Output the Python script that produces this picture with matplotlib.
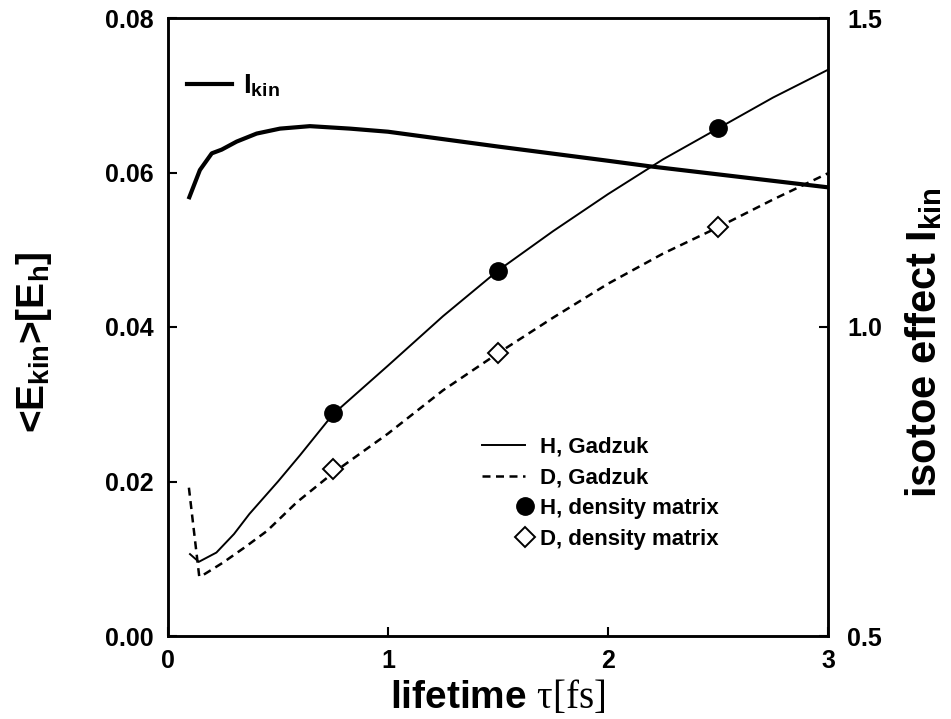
import numpy as np
import matplotlib.pyplot as plt
from matplotlib.legend_handler import HandlerLine2D

plt.rcParams['font.family'] = ['Liberation Sans', 'DejaVu Sans']
plt.rcParams['font.weight'] = 'bold'
plt.rcParams['axes.labelweight'] = 'bold'
plt.rcParams['mathtext.fontset'] = 'custom'
plt.rcParams['mathtext.rm'] = 'Liberation Serif:weight=normal'
plt.rcParams['mathtext.it'] = 'Liberation Serif:italic:weight=normal'
plt.rcParams['mathtext.bf'] = 'Liberation Sans:bold'

# Gadzuk model, mean kinetic energy vs lifetime
tau_h = [0.10, 0.14, 0.22, 0.30, 0.37, 0.50, 0.60, 0.75, 1.00, 1.25, 1.50,
         1.75, 2.00, 2.25, 2.50, 2.75, 3.00]
ekin_h = [0.0106, 0.0096, 0.0108, 0.0132, 0.0158, 0.0200, 0.0234, 0.0287,
          0.0350, 0.0414, 0.0473, 0.0524, 0.0572, 0.0617, 0.0657, 0.0697, 0.0733]

tau_d = [0.095, 0.142, 0.16, 0.25, 0.35, 0.45, 0.585, 0.75, 1.00, 1.25, 1.50,
         1.75, 2.00, 2.25, 2.50, 2.75, 3.00]
ekin_d = [0.0192, 0.0077, 0.0079, 0.0095, 0.0115, 0.0136, 0.0173, 0.0211,
          0.0262, 0.0318, 0.0366, 0.0412, 0.0456, 0.0495, 0.0529, 0.0565, 0.0599]

# density matrix results
tau_dm = [0.75, 1.5, 2.5]
ekin_h_dm = [0.0289, 0.0473, 0.0657]
ekin_d_dm = [0.0216, 0.0366, 0.0529]

# isotope effect I_kin
tau_i = [0.097, 0.145, 0.199, 0.244, 0.312, 0.403, 0.509, 0.645, 0.827, 1.0,
         1.5, 2.0, 2.19, 2.5, 3.0]
ikin = [1.210, 1.254, 1.281, 1.287, 1.300, 1.313, 1.321, 1.325, 1.321, 1.316,
        1.292, 1.269, 1.260, 1.247, 1.226]


class RightMarkerHandler(HandlerLine2D):
    # single marker sitting at the right end of the handle box
    def get_numpoints(self, legend):
        return 2

    def get_xdata(self, legend, xdescent, ydescent, width, height, fontsize):
        x = np.array([-xdescent + width])
        return x, x


fig = plt.figure(figsize=(9.51, 7.19), dpi=100)
W, H = 951, 719
ax = fig.add_axes([168 / W, 1 - 636 / H, 660 / W, 618 / H])
ax2 = ax.twinx()

ax.plot(tau_h, ekin_h, color='black', lw=1.4, label='H, Gadzuk')
ax.plot(tau_d, ekin_d, color='black', lw=1.8, ls=(0, (3.2, 2.2)), label='D, Gadzuk')
h_dm, = ax.plot(tau_dm, ekin_h_dm, 'o', color='black', ms=12.5,
                label='H, density matrix')
d_dm, = ax.plot(tau_dm, ekin_d_dm, 'D', mfc='white', mec='black', mew=1.4,
                ms=10, label='D, density matrix')

ax2.plot(tau_i, ikin, color='black', lw=3.0, label=r'I$_{\mathbf{kin}}$')

ax.set_xlim(0, 3)
ax.set_ylim(0, 0.08)
ax2.set_ylim(0.5, 1.5)
ax.set_xticks([0, 1, 2, 3])
ax.set_yticks([0, 0.02, 0.04, 0.06, 0.08])
ax.set_yticklabels(['%.2f' % v for v in ax.get_yticks()])
ax2.set_yticks([0.5, 1.0, 1.5])
ax2.set_yticklabels(['%.1f' % v for v in ax2.get_yticks()])

for a in (ax, ax2):
    for s in a.spines.values():
        s.set_linewidth(1.8)
ax.tick_params(axis='both', direction='in', length=6.5, width=1.5,
               labelsize=18, pad=10)
ax.tick_params(axis='x', pad=9)
ax2.tick_params(axis='y', direction='in', length=6.5, width=1.5,
                labelsize=18, pad=14)

ax.set_xlabel(r'lifetime $\mathrm{\tau[fs]}$', fontsize=28, labelpad=4)
ax.set_ylabel(r'<E$_{\mathbf{kin}}$>[E$_{\mathbf{h}}$]', fontsize=28)
ax.yaxis.set_label_coords(-0.172, 0.475)
ax2.set_ylabel(r'isotoe effect I$_{\mathbf{kin}}$', fontsize=30)
ax2.yaxis.set_label_coords(1.116, 0.475)

ax.legend(loc='center left', bbox_to_anchor=(0.476, 0.231), frameon=False,
          fontsize=16, borderpad=0, borderaxespad=0, handlelength=1.95,
          handletextpad=0.65, labelspacing=0.43, numpoints=1,
          handler_map={h_dm: RightMarkerHandler(), d_dm: RightMarkerHandler()})
ax2.legend(loc='center left', bbox_to_anchor=(0.029, 0.89), frameon=False,
           fontsize=20, borderpad=0, borderaxespad=0, handlelength=1.6,
           handletextpad=0.4)

fig.savefig('out.png', dpi=100)
